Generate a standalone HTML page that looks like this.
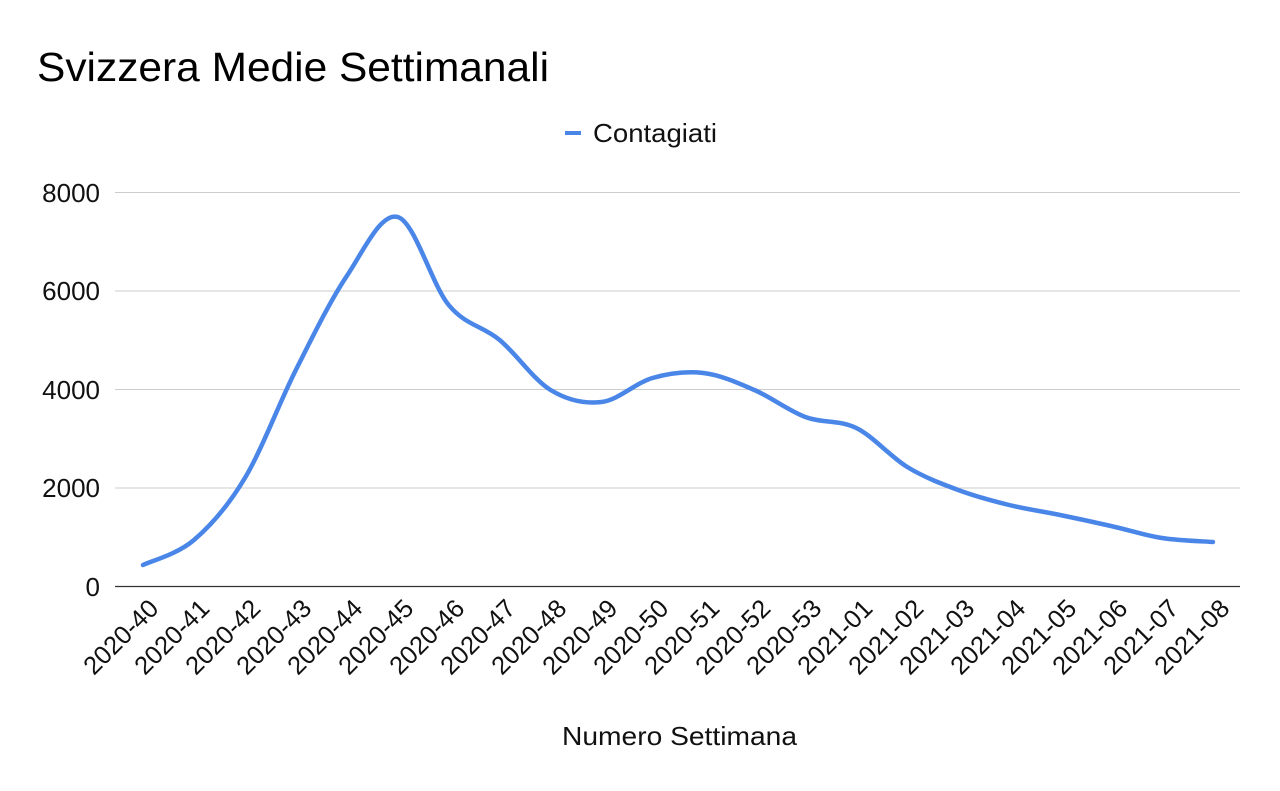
<!DOCTYPE html>
<html><head><meta charset="utf-8"><style>
body{margin:0;background:#fff;}
svg{display:block;font-family:"Liberation Sans",Arial,sans-serif;}
</style></head><body>
<svg id="s" width="1280" height="791" viewBox="0 0 1280 791">
<rect width="1280" height="791" fill="#fff"/>
<text x="37" y="81" font-size="41" fill="#000" textLength="512" lengthAdjust="spacingAndGlyphs">Svizzera Medie Settimanali</text>
<line x1="565" y1="133" x2="581" y2="133" stroke="#4a86e8" stroke-width="4"/>
<text x="593" y="142" font-size="26" fill="#111" textLength="124" lengthAdjust="spacingAndGlyphs">Contagiati</text>
<g stroke="#ccc" stroke-width="1">
<line x1="115" y1="192.5" x2="1240" y2="192.5"/>
<line x1="115" y1="291" x2="1240" y2="291"/>
<line x1="115" y1="389.5" x2="1240" y2="389.5"/>
<line x1="115" y1="488" x2="1240" y2="488"/>
</g>
<line x1="115" y1="586.5" x2="1240" y2="586.5" stroke="#333" stroke-width="1.3"/>
<g font-size="26" fill="#111" text-anchor="end">
<text x="100" y="202">8000</text>
<text x="100" y="300">6000</text>
<text x="100" y="399">4000</text>
<text x="100" y="497">2000</text>
<text x="100" y="596">0</text>
</g>
<g font-size="25.5" fill="#111" text-anchor="end">
<text transform="translate(160,610) rotate(-45)">2020-40</text>
<text transform="translate(211,610) rotate(-45)">2020-41</text>
<text transform="translate(262,610) rotate(-45)">2020-42</text>
<text transform="translate(313,610) rotate(-45)">2020-43</text>
<text transform="translate(364,610) rotate(-45)">2020-44</text>
<text transform="translate(415,610) rotate(-45)">2020-45</text>
<text transform="translate(466,610) rotate(-45)">2020-46</text>
<text transform="translate(517,610) rotate(-45)">2020-47</text>
<text transform="translate(568,610) rotate(-45)">2020-48</text>
<text transform="translate(619,610) rotate(-45)">2020-49</text>
<text transform="translate(670,610) rotate(-45)">2020-50</text>
<text transform="translate(721,610) rotate(-45)">2020-51</text>
<text transform="translate(772,610) rotate(-45)">2020-52</text>
<text transform="translate(823,610) rotate(-45)">2020-53</text>
<text transform="translate(874,610) rotate(-45)">2021-01</text>
<text transform="translate(925,610) rotate(-45)">2021-02</text>
<text transform="translate(976,610) rotate(-45)">2021-03</text>
<text transform="translate(1027,610) rotate(-45)">2021-04</text>
<text transform="translate(1078,610) rotate(-45)">2021-05</text>
<text transform="translate(1129,610) rotate(-45)">2021-06</text>
<text transform="translate(1180,610) rotate(-45)">2021-07</text>
<text transform="translate(1231,610) rotate(-45)">2021-08</text>
</g>
<text x="562" y="745" font-size="26" fill="#111" textLength="235" lengthAdjust="spacingAndGlyphs">Numero Settimana</text>
<path id="p" d="" fill="none" stroke="#4a86e8" stroke-width="4.5" stroke-linejoin="round" stroke-linecap="round"/>
</svg>
<script>
var ys=[565,540,478,370,276,217,305,340,390,402,378,373,390,417,428,467,490,505,515,526,538,542];
var pts=ys.map(function(y,i){return [143+i*50.95,y];});
var d="M"+pts[0][0]+","+pts[0][1];
for(var i=0;i<pts.length-1;i++){
 var p0=pts[i-1]||pts[i],p1=pts[i],p2=pts[i+1],p3=pts[i+2]||p2,t=6;
 d+=" C"+(p1[0]+(p2[0]-p0[0])/t)+","+(p1[1]+(p2[1]-p0[1])/t)+" "+(p2[0]-(p3[0]-p1[0])/t)+","+(p2[1]-(p3[1]-p1[1])/t)+" "+p2[0]+","+p2[1];
}
document.getElementById("p").setAttribute("d",d);
</script>
</body></html>
